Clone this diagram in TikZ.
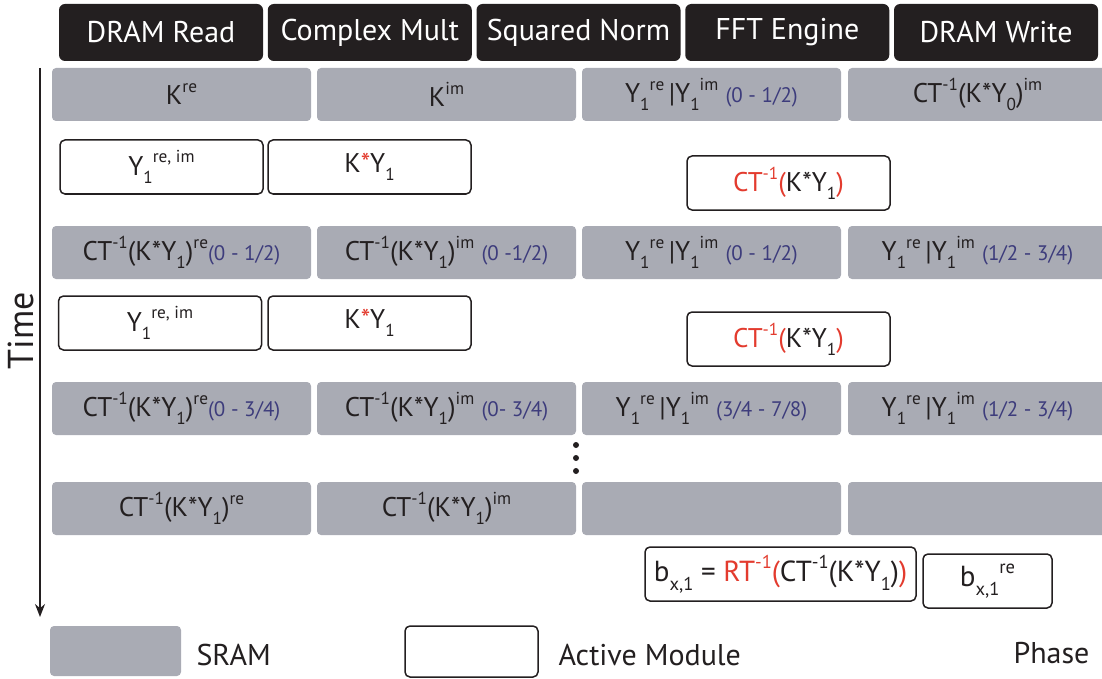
\documentclass[tikz,border=0pt]{standalone}
\usepackage{fontspec}
\setmainfont{PT Sans}
\usetikzlibrary{arrows, arrows.meta}
\definecolor{noir}{HTML}{231F20}
\definecolor{gris}{HTML}{A9ABB4}
\definecolor{rouge}{HTML}{E33B2E}
\definecolor{bleuplage}{HTML}{3D3C7C}
\newcommand{\bas}[1]{\raisebox{-0.3em}{\scalebox{0.64}{#1}}}
\newcommand{\haut}[1]{\raisebox{0.45em}{\scalebox{0.64}{#1}}}
\newcommand{\plage}[1]{{\fontsize{21}{21}\selectfont\color{bleuplage}#1}}
\newcommand{\yy}{Y\bas{1}\haut{re}\,|Y\bas{1}\haut{im}}

\begin{document}
\begin{tikzpicture}[x=1pt, y=-1pt,
		entete/.style={fill=noir, text=white, rounded corners=6pt, minimum width=204pt, minimum height=57pt, inner sep=0pt, font=\fontsize{30}{30}\selectfont},
		sram/.style={fill=gris, text=noir, rounded corners=4pt, minimum width=259pt, minimum height=53pt, inner sep=0pt, font=\fontsize{27}{27}\selectfont},
		actif/.style={draw=noir, line width=1.5pt, fill=white, text=noir, rounded corners=5pt, minimum width=203pt, minimum height=54pt, inner sep=0pt, font=\fontsize{27}{27}\selectfont},
		legende/.style={text=noir, font=\fontsize{30}{30}\selectfont}]
				\useasboundingbox (0,0) rectangle (1102,679);
				% en-tetes des modules
				\node[entete] (lect) at (161,32.5) {DRAM Read};
				\node[entete] (mult) at (369.75,32.5) {Complex Mult};
				\node[entete] (norme) at (578.5,32.5) {Squared Norm};
				\node[entete] (fft) at (787.25,32.5) {FFT Engine};
				\node[entete] (ecrit) at (996,32.5) {DRAM Write};
				% axe du temps
				\coordinate (t0) at (40,68);
				\coordinate (t1) at (40,617);
				\draw[-{Stealth[length=13pt, width=10pt]}, line width=1.4pt, color=noir] (t0)--(t1);
				\node[rotate=90, text=noir, font=\fontsize{36}{36}\selectfont] (temps) at (21,331) {Time};
				% phase 1
				\node[sram] (s11) at (181.5,94.5) {K\haut{re}};
				\node[sram] (s12) at (446.5,94.5) {K\haut{im}};
				\node[sram] (s13) at (711.5,94.5) {\yy\ \plage{(0 - 1/2)}};
				\node[sram] (s14) at (977.5,94.5) {CT\haut{-1}(K*Y\bas{0})\haut{im}};
				% phase 2
				\node[actif] (m21) at (161.5,167) {Y\bas{1}\haut{re, im}};
				\node[actif] (m22) at (369.5,167) {K{\color{rouge}*}Y\bas{1}};
				\node[actif] (m23) at (788.5,183) {{\color{rouge}CT\haut{-1}(}K*Y\bas{1}{\color{rouge})}};
				% phase 3
				\node[sram] (s31) at (181.5,252.5) {CT\haut{-1}(K*Y\bas{1})\haut{re}\plage{(0 - 1/2)}};
				\node[sram] (s32) at (446.5,252.5) {CT\haut{-1}(K*Y\bas{1})\haut{im} \plage{(0 -1/2)}};
				\node[sram] (s33) at (711.5,252.5) {\yy\ \plage{(0 - 1/2)}};
				\node[sram] (s34) at (977.5,252.5) {\yy\ \plage{(1/2 - 3/4)}};
				% phase 4
				\node[actif] (m41) at (160,323) {Y\bas{1}\haut{re, im}};
				\node[actif] (m42) at (369.5,323) {K{\color{rouge}*}Y\bas{1}};
				\node[actif] (m43) at (788.5,339) {{\color{rouge}CT\haut{-1}(}K*Y\bas{1}{\color{rouge})}};
				% phase 5
				\node[sram] (s51) at (181.5,408.5) {CT\haut{-1}(K*Y\bas{1})\haut{re}\plage{(0 - 3/4)}};
				\node[sram] (s52) at (446.5,408.5) {CT\haut{-1}(K*Y\bas{1})\haut{im} \plage{(0- 3/4)}};
				\node[sram] (s53) at (711.5,408.5) {\yy\ \plage{(3/4 - 7/8)}};
				\node[sram] (s54) at (977.5,408.5) {\yy\ \plage{(1/2 - 3/4)}};
				% points de suspension
				\fill[noir] (576,445) circle (3);
				\fill[noir] (576,458) circle (3);
				\fill[noir] (576,471) circle (3);
				% phase 6
				\node[sram] (s61) at (181.5,508.5) {CT\haut{-1}(K*Y\bas{1})\haut{re}};
				\node[sram] (s62) at (446.5,508.5) {CT\haut{-1}(K*Y\bas{1})\haut{im}};
				\node[sram] (s63) at (711.5,508.5) {};
				\node[sram] (s64) at (977.5,508.5) {};
				% phase 7
				\node[actif, minimum width=271pt, font=\fontsize{29}{29}\selectfont] (m71) at (780.5,574) {b\bas{x,1} = {\color{rouge}RT\haut{-1}(}CT\haut{-1}(K*Y\bas{1}){\color{rouge})}};
				\node[actif, minimum width=129pt, font=\fontsize{29}{29}\selectfont] (m72) at (987.5,581) {b\bas{x,1}\haut{re}};
				% legende
				\node[sram, minimum width=131pt, minimum height=50pt] (legs) at (115.5,651) {};
				\node[legende, anchor=west] (legstxt) at (193,655) {SRAM};
				\node[actif, minimum width=133pt, minimum height=51pt] (lega) at (471.5,651.5) {};
				\node[legende, anchor=west] (legatxt) at (555,655) {Active Module};
				\node[legende, anchor=east] (legp) at (1093,653) {Phase};
\end{tikzpicture}
\end{document}
